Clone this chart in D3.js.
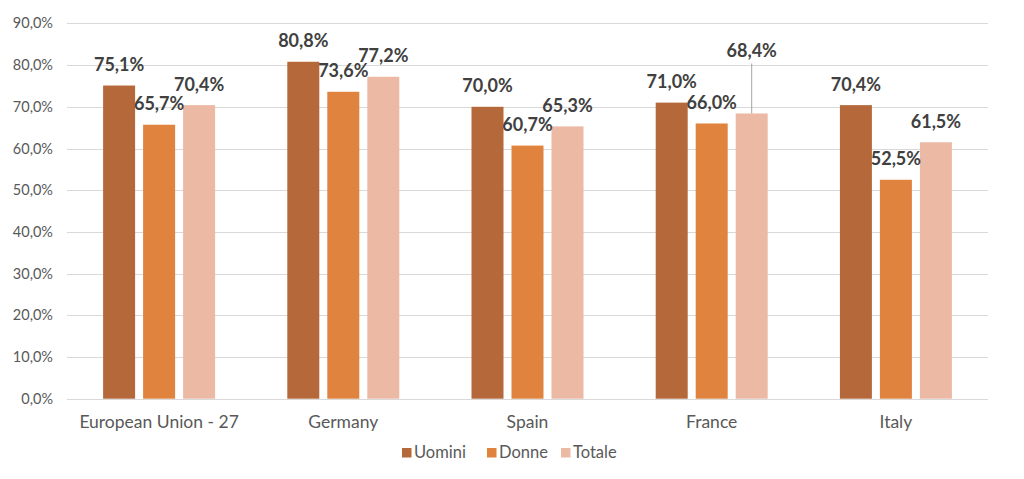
<!DOCTYPE html>
<html><head><meta charset="utf-8">
<script src="https://cdn.jsdelivr.net/npm/d3@7"></script>
<style>body{margin:0;background:#fff}svg{display:block}text{font-family:Lato,"Open Sans",sans-serif}</style>
</head><body><svg id="c" width="1024" height="479"></svg>
<script>
const categories = ["European Union - 27", "Germany", "Spain", "France", "Italy"];
const seriesNames = ["Uomini", "Donne", "Totale"];
const uomini = [75.1, 80.8, 70.0, 71.0, 70.4];
const donne  = [65.7, 73.6, 60.7, 66.0, 52.5];
const totale = [70.4, 77.2, 65.3, 68.4, 61.5];
const yTicks = [0,10,20,30,40,50,60,70,80,90];
const colors = ["#B5693A", "#E0833F", "#EBB9A4"];

const seriesValues = [uomini, donne, totale];
const svg = d3.select("#c");
const y = d3.scaleLinear().domain([0, 90]).range([398.7, 23.4]);
const x0 = d3.scaleBand().domain(categories).range([67, 988]);
const x1 = d3.scaleBand().domain(seriesNames).range([-60, 60]).paddingInner(0.2).paddingOuter(0.1);
const fmt = v => v.toFixed(1).replace(".", ",") + "%";

// gridlines
svg.append("g").selectAll("line").data(yTicks).join("line")
  .attr("x1", 67).attr("x2", 988)
  .attr("y1", d => Math.round(y(d)) + 0.5).attr("y2", d => Math.round(y(d)) + 0.5)
  .attr("stroke", "#d9d9d9").attr("stroke-width", 1);

// y axis labels
svg.append("g").selectAll("text").data(yTicks).join("text")
  .attr("x", 53).attr("y", d => y(d)).attr("dy", "0.35em")
  .attr("text-anchor", "end").attr("fill", "#595959").attr("font-size", 14.5)
  .text(d => d.toFixed(1).replace(".", ",") + "%");

// bars
const data = [];
categories.forEach((c, i) => seriesNames.forEach((s, j) => data.push({c, s, j, v: seriesValues[j][i]})));
const cx = d => x0(d.c) + x0.bandwidth() / 2 + x1(d.s);
svg.append("g").selectAll("rect").data(data).join("rect")
  .attr("x", cx).attr("width", x1.bandwidth())
  .attr("y", d => y(d.v)).attr("height", d => y(0) - y(d.v))
  .attr("fill", d => colors[d.j]);

// labels (France Totale moved up with leader line, as in reference)
const isMoved = d => d.c === "France" && d.s === "Totale";
const lblY = d => isMoved(d) ? y(d.v) - 56 : y(d.v) - 14.5;
svg.append("g").selectAll("line").data(data.filter(isMoved)).join("line")
  .attr("x1", d => cx(d) + x1.bandwidth() / 2).attr("x2", d => cx(d) + x1.bandwidth() / 2)
  .attr("y1", d => lblY(d) + 6).attr("y2", d => y(d.v))
  .attr("stroke", "#a6a6a6").attr("stroke-width", 1);
svg.append("g").selectAll("text").data(data).join("text")
  .attr("x", d => cx(d) + x1.bandwidth() / 2).attr("y", lblY)
  .attr("text-anchor", "middle").attr("fill", "#404040")
  .attr("font-size", 18).attr("font-weight", "bold")
  .text(d => fmt(d.v));

// category labels
svg.append("g").selectAll("text").data(categories).join("text")
  .attr("x", d => x0(d) + x0.bandwidth() / 2).attr("y", 428)
  .attr("text-anchor", "middle").attr("fill", "#595959").attr("font-size", 17.5)
  .text(d => d);

// legend
const legX = [402, 487, 561];
const lg = svg.append("g").selectAll("g").data(seriesNames).join("g")
  .attr("transform", (d, i) => `translate(${legX[i]},448)`);
lg.append("rect").attr("width", 9.5).attr("height", 9.5).attr("fill", (d, i) => colors[i]);
lg.append("text").attr("x", 12).attr("y", 9.5).attr("fill", "#595959").attr("font-size", 16.5).text(d => d);
</script></body></html>
